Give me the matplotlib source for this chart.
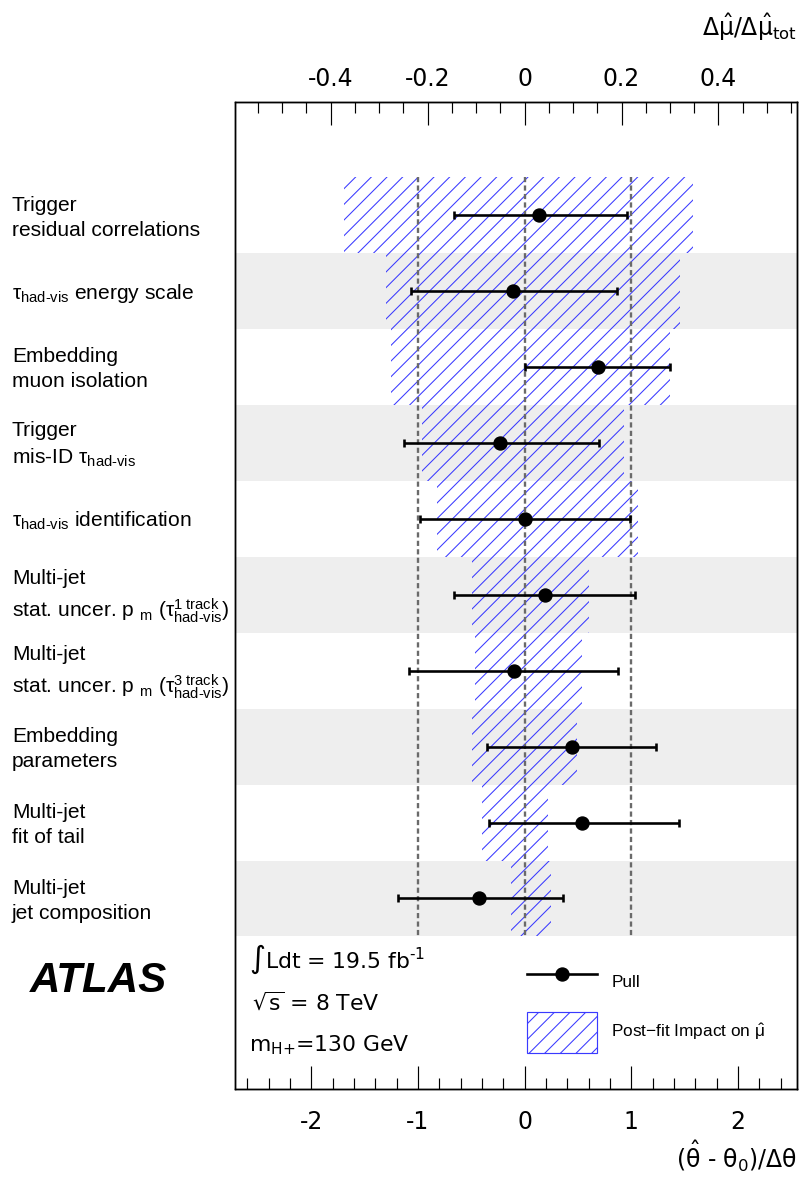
import matplotlib
matplotlib.use("Agg")
import matplotlib.pyplot as plt
import matplotlib.patches as mpatches
from matplotlib.lines import Line2D
from matplotlib.ticker import MultipleLocator
from matplotlib.transforms import blended_transform_factory
import numpy as np

plt.rcParams['font.family'] = ['Liberation Sans', 'DejaVu Sans']
plt.rcParams['mathtext.fontset'] = 'custom'
plt.rcParams['mathtext.rm'] = 'Liberation Sans'
plt.rcParams['mathtext.it'] = 'Liberation Sans:italic'
plt.rcParams['mathtext.bf'] = 'Liberation Sans:bold'
plt.rcParams['mathtext.default'] = 'regular'
plt.rcParams['axes.unicode_minus'] = False
plt.rcParams['hatch.linewidth'] = 0.8

# nuisance parameters, ranked by impact (top = largest)
labels = [
    "Trigger\nresidual correlations",
    r"τ$_{\text{had-vis}}$ energy scale",
    "Embedding\nmuon isolation",
    "Trigger\n" + r"mis-ID τ$_{\text{had-vis}}$",
    r"τ$_{\text{had-vis}}$ identification",
    "Multi-jet\n" + r"stat. uncer. p ${}_{m}$ ($τ^{\text{1 track}}_{\text{had-vis}}$)",
    "Multi-jet\n" + r"stat. uncer. p ${}_{m}$ ($τ^{\text{3 track}}_{\text{had-vis}}$)",
    "Embedding\nparameters",
    "Multi-jet\nfit of tail",
    "Multi-jet\njet composition",
]

# pulls (theta_hat - theta_0)/dtheta with asymmetric errors
pull = [0.14, -0.105, 0.69, -0.227, 0.005, 0.189, -0.101, 0.448, 0.542, -0.429]
err_lo = [0.797, 0.962, 0.685, 0.902, 0.984, 0.847, 0.979, 0.802, 0.875, 0.759]
err_hi = [0.822, 0.969, 0.672, 0.925, 0.984, 0.847, 0.980, 0.787, 0.909, 0.793]

# post-fit impact on mu_hat (down / up)
imp_lo = [-0.372, -0.286, -0.276, -0.212, -0.180, -0.109, -0.102, -0.109, -0.088, -0.028]
imp_hi = [0.348, 0.321, 0.299, 0.205, 0.233, 0.132, 0.118, 0.108, 0.049, 0.055]

pull_ticks = [-2, -1, 0, 1, 2]
imp_ticks = [-0.4, -0.2, 0, 0.2, 0.4]
imp_ticklabels = ["-0.4", "-0.2", "0", "0.2", "0.4"]

hatch_col = '#3a3aff'
W, H, DPI = 799, 1179, 94
wide = dict(fontfamily='DejaVu Sans', math_fontfamily='dejavusans')

fig = plt.figure(figsize=(W / DPI, H / DPI), dpi=DPI)
ax = fig.add_axes([235.5 / W, 1 - 1089 / H, (797.3 - 235.5) / W, (1089 - 102.3) / H])
ax2 = ax.twiny()
ax.set_zorder(ax2.get_zorder() + 1)
ax.patch.set_visible(False)

rows = np.arange(len(labels))
ax.set_ylim(11.51, -1.49)
ax.set_xlim(-2.71, 2.557)
ax2.set_xlim(-0.596, 0.5625)

# alternating grey bands + hatched impact on the impact axis
for k in rows[1::2]:
    ax2.axhspan(k - 0.5, k + 0.5, color='#eeeeee', lw=0, zorder=0)
ax2.barh(rows, np.array(imp_hi) - np.array(imp_lo), left=imp_lo, height=1.0,
         color='none', edgecolor=hatch_col, hatch='//', linewidth=0, zorder=1)

# pulls on the front axis
ax.vlines([-1, 0, 1], rows[0] - 0.5, rows[-1] + 0.5, colors='#6a6a6a',
          linestyles=(0, (2.2, 1.4)), lw=1.8, zorder=2)
ax.errorbar(pull, rows, xerr=[err_lo, err_hi], fmt='o', color='black', ms=10,
            elinewidth=2.0, capsize=3, capthick=2.0, zorder=5)

for a in (ax, ax2):
    for s in a.spines.values():
        s.set_linewidth(1.1)
    a.tick_params(axis='y', left=False, right=False, labelleft=False, labelright=False)

ax.set_xticks(pull_ticks)
ax.xaxis.set_minor_locator(MultipleLocator(0.2))
ax.tick_params(axis='x', which='major', direction='in', length=17.6, width=0.9,
               labelsize=18, labelfontfamily='DejaVu Sans', pad=16, top=False)
ax.tick_params(axis='x', which='minor', direction='in', length=8.4, width=0.9, top=False)

ax2.set_xticks(imp_ticks)
ax2.set_xticklabels(imp_ticklabels)
ax2.xaxis.set_minor_locator(MultipleLocator(0.05))
ax2.tick_params(axis='x', which='major', direction='in', length=17.6, width=0.9,
                labelsize=18, labelfontfamily='DejaVu Sans', pad=8.4, bottom=False)
ax2.tick_params(axis='x', which='minor', direction='in', length=8.4, width=0.9, bottom=False)

# parameter names on the left
tr = blended_transform_factory(fig.transFigure, ax.transData)
for k, lab in zip(rows, labels):
    ax.text(12 / W, k + 0.03, lab, transform=tr, ha='left', va='center', fontsize=16.1,
            linespacing=1.4)

fig.text(797 / W, 1 - 36 / H, r"$\Delta\hat{\mu}/\Delta\hat{\mu}_{tot}$",
         ha='right', va='baseline', fontsize=18, **wide)
fig.text(797 / W, 1 - 1168 / H, r"$(\hat{\theta}$ - $\theta_{0})/\Delta\theta$",
         ha='right', va='baseline', fontsize=18, **wide)

fig.text(30 / W, 1 - 991.7 / H, "ATLAS", fontsize=32.3, fontweight='bold',
         fontstyle='italic', va='baseline')
fig.text(249 / W, 1 - 968 / H, r"$\int$Ldt = 19.5 fb$^{\text{-1}}$", fontsize=16.8,
         va='baseline', **wide)
fig.text(252 / W, 1 - 1010 / H, r"$\sqrt{s}$ = 8 TeV", fontsize=16.8, va='baseline', **wide)
fig.text(249 / W, 1 - 1051.7 / H, r"m$_{\text{H+}}$=130 GeV", fontsize=16.8,
         va='baseline', **wide)

h_pull = Line2D([], [], color='black', lw=2.0, marker='o', ms=10)
h_imp = mpatches.Patch(facecolor='none', edgecolor=hatch_col, hatch='//', lw=0.9)
ax.legend([h_pull, h_imp], ["Pull", r"Post−fit Impact on $\hat{\mu}$"],
          loc='upper left', bbox_to_anchor=(526.7 / W, 1 - 961.3 / H),
          bbox_transform=fig.transFigure, frameon=False, fontsize=13.2,
          handlelength=4.06, handleheight=3.28, handletextpad=0.85,
          labelspacing=0.56, borderpad=0, borderaxespad=0)

fig.savefig("out.png", dpi=DPI)
